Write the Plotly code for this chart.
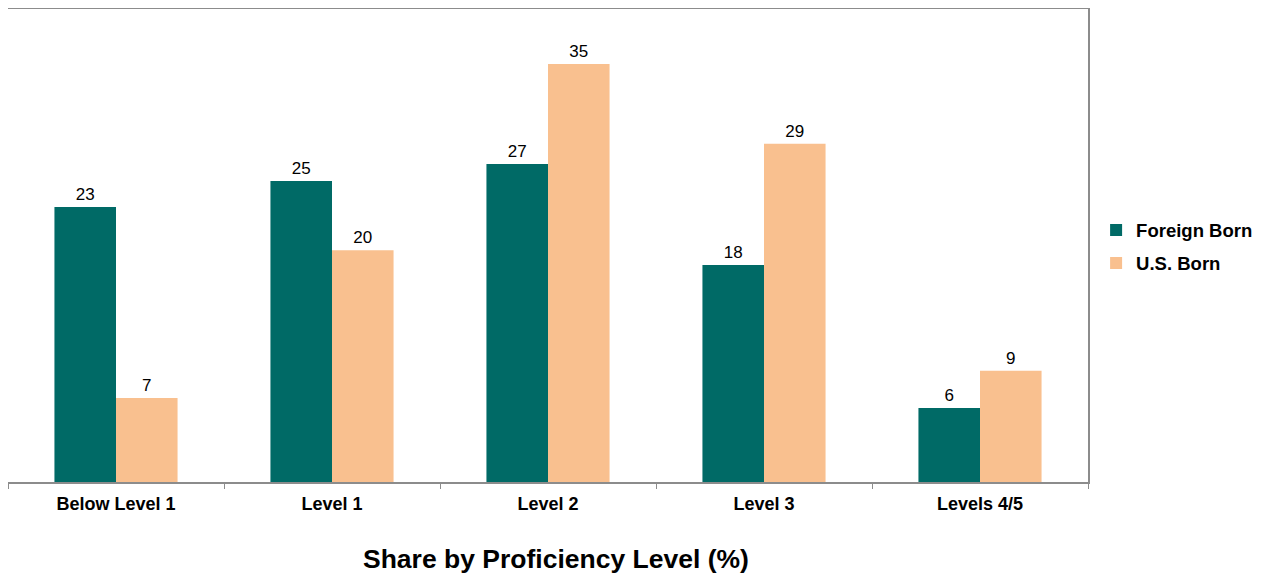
import plotly.graph_objects as go

categories = ["Below Level 1", "Level 1", "Level 2", "Level 3", "Levels 4/5"]
# bar heights (labels show rounded values)
foreign_born = [23.26, 25.45, 26.9, 18.35, 6.26]
us_born = [7.1, 19.6, 35.35, 28.6, 9.4]
foreign_born_labels = ["23", "25", "27", "18", "6"]
us_born_labels = ["7", "20", "35", "29", "9"]

FONT = "Liberation Sans, Arial, sans-serif"

fig = go.Figure()
fig.add_trace(go.Bar(
    x=categories, y=foreign_born, name="Foreign Born", legendgroup="fb",
    marker=dict(color="#006A66", line=dict(width=0)),
    text=foreign_born_labels, textposition="outside", hoverinfo="x+name+text",
    textfont=dict(size=17, color="black", family=FONT),
    cliponaxis=False,
))
fig.add_trace(go.Bar(
    x=categories, y=us_born, name="U.S. Born", legendgroup="us",
    marker=dict(color="#F9C08F", line=dict(width=0)),
    text=us_born_labels, textposition="outside", hoverinfo="x+name+text",
    textfont=dict(size=17, color="black", family=FONT),
    cliponaxis=False,
))

fig.update_layout(
    width=1264, height=566,
    margin=dict(l=0, r=184, t=1, b=92),
    paper_bgcolor="white", plot_bgcolor="white",
    barmode="group", bargap=0.43, bargroupgap=0,
    font=dict(family=FONT, color="black"),
    showlegend=True,
    legend=dict(x=1.0075, y=0.497, xanchor="left", yanchor="middle",
                traceorder="grouped", tracegroupgap=6,
                font=dict(size=18.5, family=FONT, color="black", weight="bold"),
                itemwidth=30, bgcolor="rgba(0,0,0,0)"),
    xaxis=dict(
        showline=True, mirror=True, linecolor="#8C8C8C", linewidth=2,
        ticks="outside", tickson="boundaries", ticklen=5, tickcolor="#8C8C8C", tickwidth=1,
        ticklabelstandoff=4,
        tickfont=dict(size=18, family=FONT, color="black", weight="bold"),
        showgrid=False,
    ),
    yaxis=dict(
        range=[0, 40], showline=True, mirror=True, linecolor="#8C8C8C", linewidth=2,
        showticklabels=False, showgrid=False, zeroline=False, ticks="",
    ),
    annotations=[dict(
        text="<b>Share by Proficiency Level (%)</b>", xref="paper", yref="paper",
        x=0.507, y=-0.163, xanchor="center", yanchor="middle", showarrow=False,
        font=dict(size=26.5, family=FONT, color="black"),
    )],
)

fig.write_html("out.html")
